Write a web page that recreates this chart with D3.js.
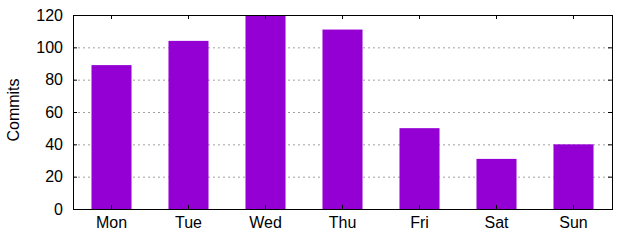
<!DOCTYPE html>
<html>
<head>
<script src="https://cdn.jsdelivr.net/npm/d3@7"></script>
<style>
  body { margin: 0; background: #fff; }
  text { font-family: "Liberation Sans", Arial, sans-serif; font-size: 16px; fill: #000; }
</style>
</head>
<body>
<div id="chart"></div>
<script>
var days = ["Mon", "Tue", "Wed", "Thu", "Fri", "Sat", "Sun"];
var commits = [89, 104, 120, 111, 50, 31, 40];
var yTicks = [0, 20, 40, 60, 80, 100, 120];

var width = 640, height = 240,
    margin = {top: 15, right: 28, bottom: 31, left: 73};

var svg = d3.select("#chart").append("svg")
    .attr("width", width)
    .attr("height", height);

var plotW = width - margin.left - margin.right,
    plotH = height - margin.top - margin.bottom;

var g = svg.append("g")
    .attr("transform", "translate(" + margin.left + "," + margin.top + ")");

var x = d3.scaleBand()
    .domain(days)
    .range([0, plotW])
    .paddingInner(0.48)
    .paddingOuter(0.24);

var y = d3.scaleLinear()
    .domain([0, 120])
    .range([plotH, 0]);

// grid
g.selectAll(".grid")
    .data(yTicks.filter(function(d) { return d > 0 && d < 120; }))
    .enter().append("line")
    .attr("x1", 0)
    .attr("x2", plotW)
    .attr("y1", function(d) { return y(d) + 0.5; })
    .attr("y2", function(d) { return y(d) + 0.5; })
    .attr("stroke", "#a0a0a0")
    .attr("stroke-dasharray", "2,3");

// bars
g.selectAll(".bar")
    .data(commits)
    .enter().append("rect")
    .attr("x", function(d, i) { return x(days[i]); })
    .attr("y", function(d) { return y(d); })
    .attr("width", x.bandwidth())
    .attr("height", function(d) { return plotH - y(d); })
    .style("fill", "#9400d3");

// axes with inward ticks
var yAxis = g.append("g")
    .call(d3.axisLeft(y).tickValues(yTicks).tickSize(-4).tickPadding(10));
var yRight = g.append("g")
    .attr("transform", "translate(" + plotW + ",0)")
    .call(d3.axisRight(y).tickValues(yTicks).tickSize(-4).tickFormat(""));
var xAxis = g.append("g")
    .attr("transform", "translate(0," + plotH + ")")
    .call(d3.axisBottom(x).tickSize(-4).tickPadding(8));
var xTop = g.append("g")
    .call(d3.axisTop(x).tickSize(-4).tickFormat(""));

[yAxis, yRight, xAxis, xTop].forEach(function(a) {
  a.select(".domain").remove();
  a.selectAll("line").attr("stroke", "#000");
  a.selectAll("text").attr("font-family", null).attr("font-size", null).attr("fill", "#000");
  a.attr("font-family", null).attr("font-size", null);
});

// frame
g.append("rect")
    .attr("x", 0.5)
    .attr("y", 0.5)
    .attr("width", plotW)
    .attr("height", plotH)
    .attr("fill", "none")
    .attr("stroke", "#000");

svg.append("text")
    .attr("transform", "translate(19,110) rotate(-90)")
    .style("text-anchor", "middle")
    .text("Commits");
</script>
</body>
</html>
